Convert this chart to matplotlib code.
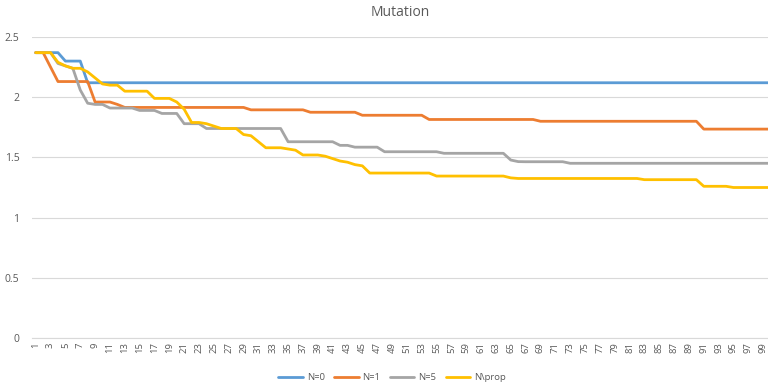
import matplotlib
matplotlib.use("Agg")
import matplotlib.pyplot as plt
import numpy as np

plt.rcParams['font.family'] = ['Open Sans', 'DejaVu Sans']

# Generation index 1..100
generations = list(range(1, 101))

n0 = [2.37, 2.37, 2.37, 2.37, 2.30, 2.30, 2.30] + [2.12] * 93

n1 = ([2.37, 2.37, 2.25] + [2.13] * 5 + [1.96] * 3 + [1.94] + [1.915] * 17 +
      [1.895] * 8 + [1.875] * 7 + [1.85] * 9 + [1.815] * 15 + [1.80] * 22 +
      [1.735] * 10)

n5 = ([2.37, 2.37, 2.37, 2.28, 2.26, 2.24, 2.06, 1.95, 1.94, 1.94] +
      [1.91] * 4 + [1.89] * 3 + [1.865] * 3 + [1.78] * 3 + [1.74] * 11 +
      [1.63] * 7 + [1.60] * 2 + [1.585] * 4 + [1.547] * 8 + [1.534] * 9 +
      [1.478, 1.465] + [1.464] * 6 + [1.451] * 28)

nprop = ([2.37, 2.37, 2.37, 2.29, 2.26, 2.24, 2.24, 2.21, 2.16, 2.11, 2.10, 2.10,
          2.05, 2.05, 2.05, 2.05, 1.99, 1.99, 1.99, 1.96, 1.90, 1.79, 1.79, 1.78,
          1.76, 1.74, 1.74, 1.74, 1.69, 1.68, 1.63, 1.58, 1.58, 1.58, 1.57, 1.56,
          1.52, 1.52, 1.52, 1.51, 1.49, 1.47, 1.46, 1.44, 1.43] +
         [1.37] * 9 + [1.345] * 10 + [1.33] + [1.325] * 17 + [1.315] * 8 +
         [1.26] * 4 + [1.25] * 6)

series = [("N=0", n0, "#5B9BD5"),
          ("N=1", n1, "#ED7D31"),
          ("N=5", n5, "#A5A5A5"),
          ("N\\prop", nprop, "#FFC000")]

fig = plt.figure(figsize=(7.68, 3.88), dpi=100)
ax = fig.add_axes([32 / 768, 50 / 388, 1 - 32 / 768, 301 / 388])

for label, values, color in series:
    ax.plot(generations, values, color=color, lw=2.0, label=label,
            solid_joinstyle='round', solid_capstyle='round')

ax.set_ylim(0, 2.5)
ax.set_yticks([0, 0.5, 1, 1.5, 2, 2.5])
ax.set_yticklabels(["0", "0.5", "1", "1.5", "2", "2.5"])
ax.set_xlim(0.5, 99.65)
odd = generations[::2]
ax.set_xticks(odd)
ax.set_xticklabels([str(g) for g in odd], rotation=90)

ax.grid(axis='y', color='#D9D9D9', lw=0.8)
ax.set_axisbelow(True)
for side in ['top', 'right', 'left']:
    ax.spines[side].set_visible(False)
ax.spines['bottom'].set_color('#D9D9D9')
ax.spines['bottom'].set_linewidth(0.8)
ax.tick_params(axis='both', length=0, colors='#595959')
ax.tick_params(axis='y', labelsize=7.5, pad=9)
ax.tick_params(axis='x', labelsize=6.8, pad=3)

fig.text(400 / 768, 1 - 12 / 388, "Mutation", ha='center', va='center',
         fontsize=10, color='#595959')

fig.legend(loc='center', bbox_to_anchor=(392 / 768, 1 - 378 / 388), ncol=4,
           frameon=False, fontsize=6.8, handlelength=2.6, handletextpad=0.4,
           columnspacing=1.0, labelcolor='#595959')

fig.savefig("out.png", dpi=100)
